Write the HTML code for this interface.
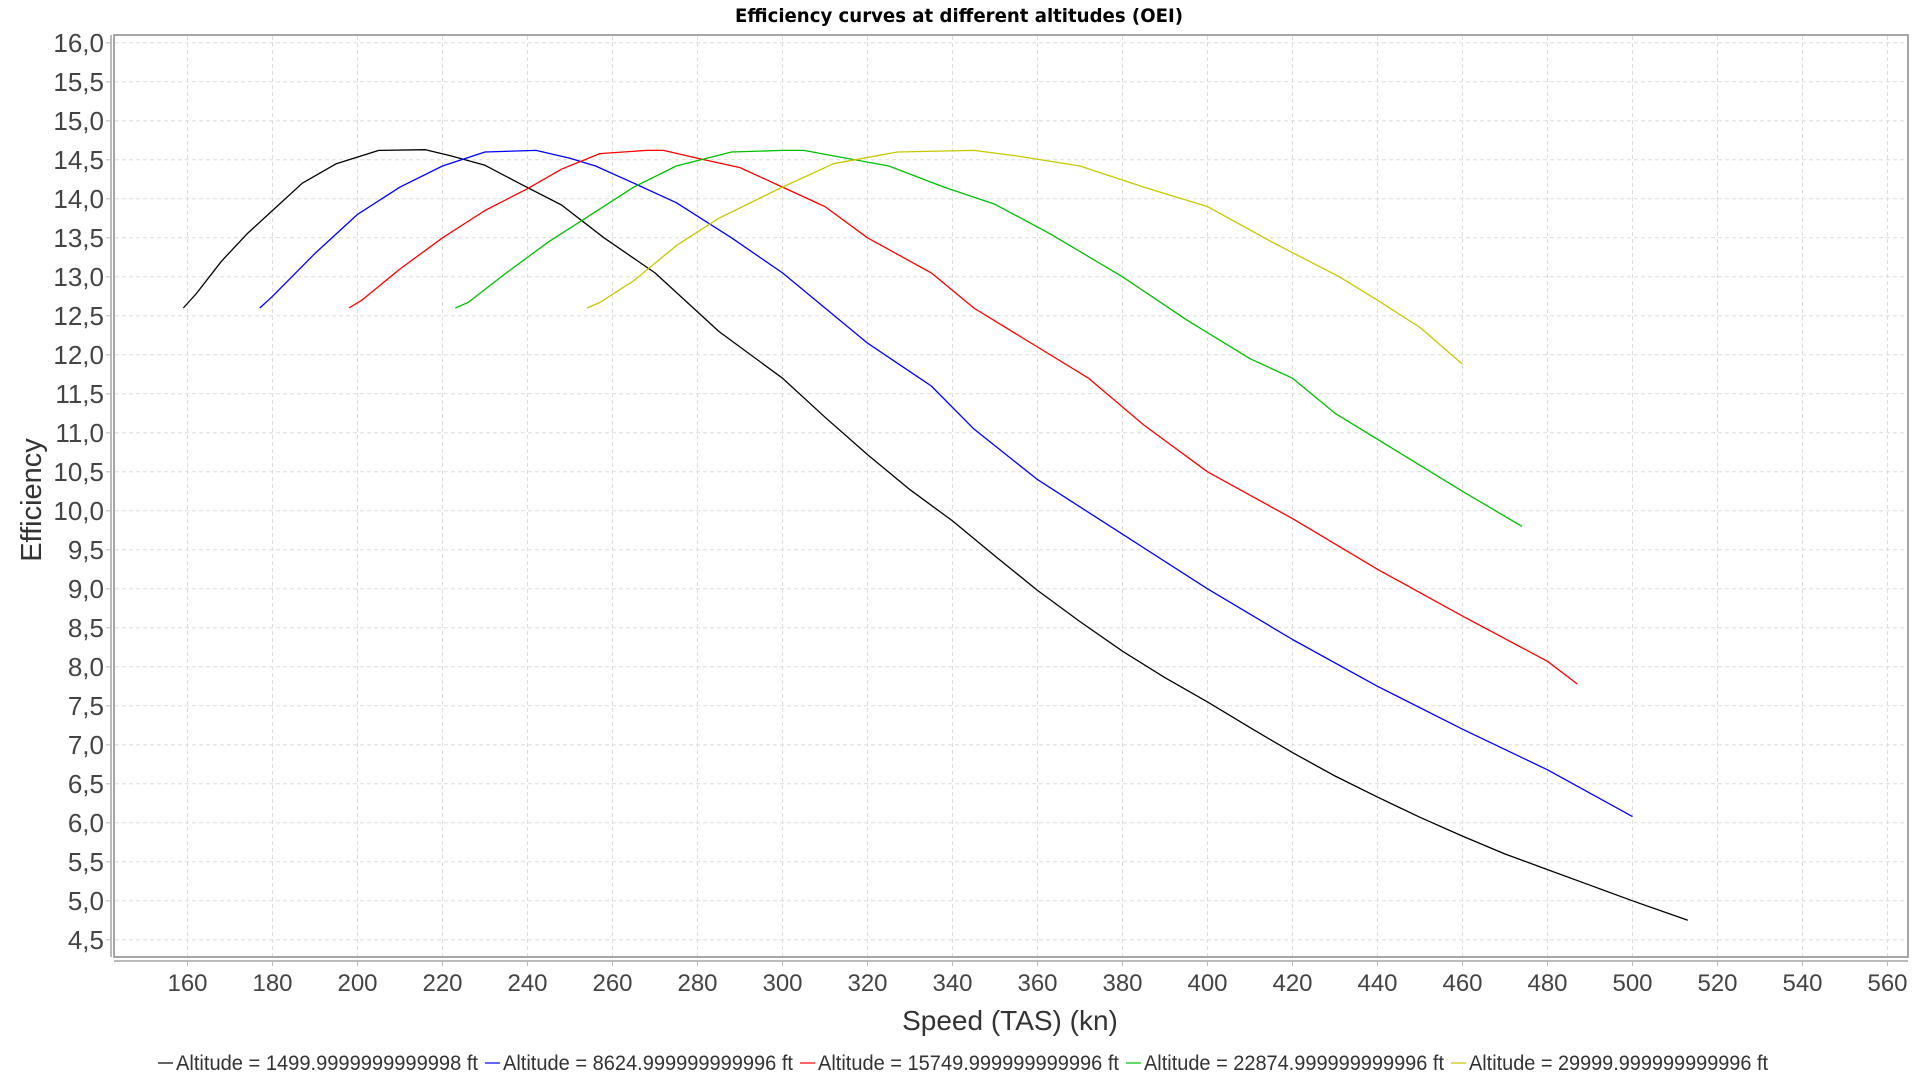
<!DOCTYPE html>
<html><head><meta charset="utf-8"><style>
html,body{margin:0;padding:0;background:#fff;}
svg{display:block;font-family:"Liberation Sans",sans-serif;}
</style></head><body>
<svg id="chart" width="1920" height="1080" viewBox="0 0 1920 1080" xmlns="http://www.w3.org/2000/svg">
<rect x="0" y="0" width="1920" height="1080" fill="#fff"/>
<text x="959" y="22" text-anchor="middle" font-family="DejaVu Sans, sans-serif" font-weight="bold" font-size="19" textLength="448" lengthAdjust="spacingAndGlyphs">Efficiency curves at different altitudes (OEI)</text>
<g id="grid"></g>
<rect x="114" y="35" width="1794" height="922" fill="none" stroke="#888" stroke-width="1.5"/>
<line x1="111" y1="35" x2="111" y2="957" stroke="#bbb" stroke-width="2"/>
<line x1="114" y1="961" x2="1908" y2="961" stroke="#bbb" stroke-width="2"/>
<g id="yticks"></g>
<g id="xticks"></g>
<g id="series"></g>
<text x="1010" y="1030" text-anchor="middle" font-size="28" fill="#333">Speed (TAS) (kn)</text>
<text transform="translate(41,500) rotate(-90)" text-anchor="middle" font-size="29" fill="#333">Efficiency</text>
<g id="legend"></g>
</svg>
<script>
const xTicks=[160,180,200,220,240,260,280,300,320,340,360,380,400,420,440,460,480,500,520,540,560];
const yTicks=[4.5,5,5.5,6,6.5,7,7.5,8,8.5,9,9.5,10,10.5,11,11.5,12,12.5,13,13.5,14,14.5,15,15.5,16];
const seriesNames=["Altitude = 1499.9999999999998 ft","Altitude = 8624.999999999996 ft","Altitude = 15749.999999999996 ft","Altitude = 22874.999999999996 ft","Altitude = 29999.999999999996 ft"];
const seriesColors=["#000000","#0000ff","#ff0000","#00c000","#c8c800"];
const blackX=[159,162,168,174,180,187,195,205,216,222,230,238,248,258,270,285,300,310,320,330,340,350,360,370,380,390,400,410,420,430,440,450,460,470,480,490,500,513];
const blackY=[12.6,12.78,13.2,13.55,13.85,14.2,14.45,14.62,14.63,14.55,14.43,14.2,13.92,13.5,13.05,12.3,11.7,11.2,10.72,10.27,9.87,9.42,8.98,8.58,8.2,7.86,7.55,7.22,6.9,6.6,6.33,6.07,5.83,5.6,5.4,5.2,5.0,4.75];
const blueX=[177,180,190,200,210,220,230,242,250,256,265,275,288,300,310,320,335,345,360,380,400,420,440,460,480,500];
const blueY=[12.6,12.75,13.3,13.8,14.15,14.42,14.6,14.62,14.52,14.42,14.2,13.95,13.5,13.05,12.6,12.15,11.6,11.05,10.4,9.7,9.0,8.35,7.75,7.2,6.68,6.08];
const redX=[198,201,210,220,230,240,248,257,268,272,280,290,300,310,320,335,345,360,372,385,400,420,440,460,480,487];
const redY=[12.6,12.7,13.1,13.5,13.85,14.13,14.38,14.58,14.62,14.62,14.52,14.4,14.15,13.9,13.5,13.05,12.6,12.1,11.7,11.1,10.5,9.9,9.25,8.65,8.07,7.78];
const greenX=[223,226,235,245,255,265,275,288,300,305,312,325,338,350,363,380,395,410,420,430,445,460,474];
const greenY=[12.6,12.67,13.05,13.45,13.8,14.15,14.42,14.6,14.62,14.62,14.55,14.42,14.15,13.93,13.55,13.0,12.45,11.95,11.7,11.25,10.75,10.25,9.8];
const yellowX=[254,257,265,275,285,300,312,327,345,355,370,385,400,415,431,440,450,460];
const yellowY=[12.6,12.67,12.95,13.4,13.75,14.15,14.45,14.6,14.62,14.55,14.42,14.15,13.9,13.45,13.0,12.7,12.35,11.88];
const legendLengths=[302,290,301,300,299];

const NS="http://www.w3.org/2000/svg";
function xS(v){return 187.5+(v-160)*4.25;}
function yS(v){return 42.8+(16-v)*78;}
function mk(tag,attrs,parent){const e=document.createElementNS(NS,tag);for(const k in attrs)e.setAttribute(k,attrs[k]);parent.appendChild(e);return e;}
const grid=document.getElementById('grid');
xTicks.forEach(t=>{
  const l=mk('line',{x1:xS(t),x2:xS(t),y1:36,y2:956,stroke:'#ddd','stroke-dasharray':'4,3'},grid);
  
  
  const tk=mk('line',{x1:xS(t),x2:xS(t),y1:961,y2:966,stroke:'#bbb'},grid);
  
  
  const tx=mk('text',{x:xS(t),y:991,'text-anchor':'middle','font-size':24,fill:'#444'},document.getElementById('xticks'));
  tx.textContent=t;
  
  
});
yTicks.forEach(t=>{
  const l=mk('line',{x1:115,x2:1907,y1:yS(t),y2:yS(t),stroke:'#ddd','stroke-dasharray':'4,3'},grid);
  
  
  const tk=mk('line',{x1:106,x2:111,y1:yS(t),y2:yS(t),stroke:'#bbb'},grid);
  
  
  const tx=mk('text',{x:104,y:yS(t)+9,'text-anchor':'end','font-size':26,fill:'#444'},document.getElementById('yticks'));
  tx.textContent=t.toFixed(1).replace('.',',');
  
  
});
const allX=[blackX,blueX,redX,greenX,yellowX], allY=[blackY,blueY,redY,greenY,yellowY];
const sg=document.getElementById('series');
allX.forEach((xs,i)=>{
  const d=xs.map((x,j)=>(j?'L':'M')+xS(x).toFixed(1)+','+yS(allY[i][j]).toFixed(1)).join(' ');
  const p=mk('path',{d:d,fill:'none',stroke:seriesColors[i],'stroke-width':1.3,'stroke-linejoin':'round'},sg);
  
  
});
const lg=document.getElementById('legend');
let lx=158;
seriesNames.forEach((n,i)=>{
  const sw=mk('line',{x1:lx,x2:lx+15,y1:1063,y2:1063,stroke:seriesColors[i],'stroke-width':2,opacity:0.6},lg);
  
  
  const tx=mk('text',{x:lx+18,y:1070,'font-size':21,fill:'#333',textLength:legendLengths[i],lengthAdjust:'spacingAndGlyphs'},lg);
  tx.textContent=n;
  
  
  lx+=18+legendLengths[i]+7;
});
</script>
</body></html>
